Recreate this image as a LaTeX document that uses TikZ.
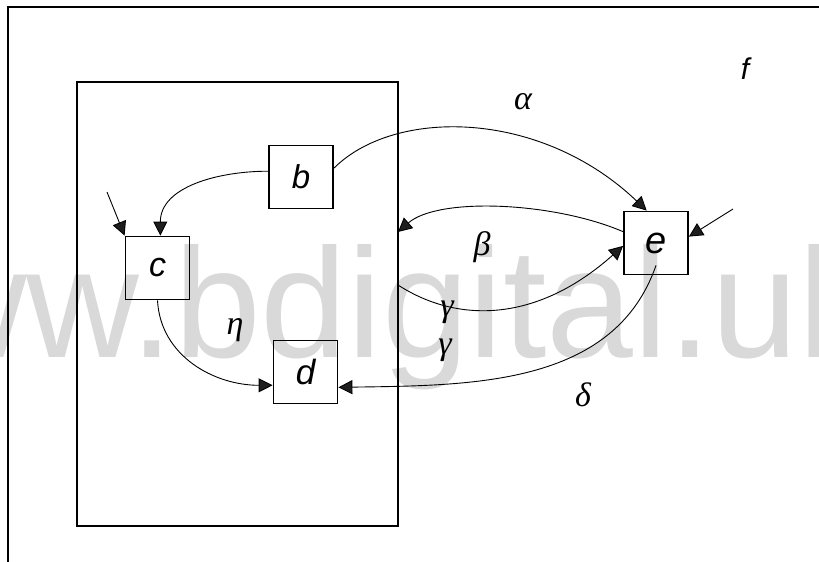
\documentclass[tikz,border=0pt]{standalone}
\usepackage{fontspec}
\setmainfont{Liberation Sans}
\newfontfamily\grkfont{Liberation Serif}
\usetikzlibrary{arrows.meta,calc}
\definecolor{wmgray}{RGB}{217,217,217}
\definecolor{tipgray}{RGB}{30,30,30}
\tikzset{
  boxnode/.style={draw, line width=0.9pt, minimum width=32pt, minimum height=31.5pt, inner sep=0pt,
    font=\fontsize{16.5}{18}\selectfont\itshape},
  framebox/.style={draw, line width=0.9pt, inner sep=0pt},
  frameline/.style={line width=0.9pt},
  conn/.style={line width=0.45pt, -{Triangle[length=7pt,width=7pt,fill=tipgray]}},
  lbl/.style={inner sep=0pt, font=\fontsize{17}{19}\selectfont\grkfont\itshape},
  wm/.style={inner sep=0pt, text=wmgray, font=\fontsize{78}{80}\selectfont}
}
\begin{document}
\begin{tikzpicture}[x=0.5pt,y=-0.5pt]
\useasboundingbox (0,0) rectangle (819,562);
\begin{scope}
  \clip (0,0) rectangle (819,562);
  \node[wm, anchor=base west] (wmark) at (-199,357) {www.bdigital.ul};
\end{scope}
% outer frame (top and left edges only)
\draw[frameline] (8,562) -- (8,7) -- (819,7);
% inner system rectangle
\node[framebox, minimum width=160.5pt, minimum height=222pt] (sys) at (237.5,304) {};
% boxes
\node[boxnode] (b) at (301,177) {b};
\node[boxnode, font=\fontsize{17}{19}\selectfont\itshape] (c) at (157.5,268) {c};
\node[boxnode, font=\fontsize{17.5}{19}\selectfont\itshape] (d) at (305.5,372) {d};
\node[boxnode, font=\fontsize{19}{21}\selectfont\itshape] (e) at (656,243) {e};
% labels
\node[inner sep=0pt, font=\fontsize{15}{17}\selectfont\itshape] (f) at (745,69) {f};
\node[lbl] (la) at (523,102) {α};
\node[lbl] (lb) at (482,247) {β};
\node[lbl] (lg1) at (447,312) {γ};
\node[lbl] (lg2) at (445,350) {γ};
\node[lbl] (ld) at (583,395) {δ};
\node[lbl] (le) at (235,330) {η};
% free ends
\coordinate (cin) at (107,192);
\coordinate (ein) at (733,209);
\coordinate (betaend) at (398,232);
\coordinate (gammastart) at (398,285);
% connectors
\draw[conn] (b.170) to[out=180,in=90] (c.85);
\draw[conn] (cin) -- (c.north west);
\draw[conn] (b.15) .. controls +(60,-60) and +(-107,-102) .. (e.106);
\draw[conn] (e.161) .. controls +(-70,-30) and +(40,-35) .. (betaend);
\draw[conn] (gammastart) .. controls +(62,40) and +(-84,75) .. (e.185);
\draw[conn] ([yshift=5pt]e.south) .. controls +(-42,121) and +(132,-2) .. (d.-25);
\draw[conn] (c.south) .. controls +(3,56) and +(-58,0) .. (d.202);
\draw[conn] (ein) -- (e.11);
\end{tikzpicture}
\end{document}
